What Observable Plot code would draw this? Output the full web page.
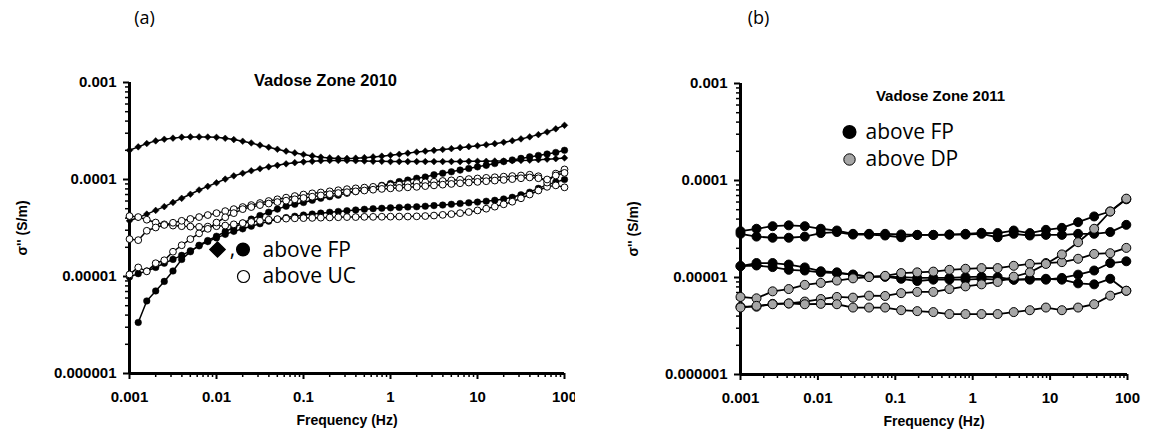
<!DOCTYPE html>
<html><head><meta charset="utf-8">
<script src="https://cdn.jsdelivr.net/npm/d3@7"></script>
<script src="https://cdn.jsdelivr.net/npm/@observablehq/plot@0.6"></script>
<style>
body{margin:0;background:#fff;}
#row{display:flex;width:1150px;height:436px;overflow:hidden;}
</style></head><body><div id="row"></div>
<script>
// values below are in units of 1e-5 S/m
const UNIT = 1e-5;

// ---------- panel (a): Vadose Zone 2010 ----------
const freqA = [0.001,0.00126,0.00158,0.002,0.00251,0.00316,0.00398,0.00501,0.00631,0.00794,
  0.01,0.0126,0.0158,0.02,0.0251,0.0316,0.0398,0.0501,0.0631,0.0794,
  0.1,0.126,0.158,0.2,0.251,0.316,0.398,0.501,0.631,0.794,
  1,1.26,1.58,2,2.51,3.16,3.98,5.01,6.31,7.94,
  10,12.6,15.8,20,25.1,31.6,39.8,50.1,63.1,79.4,100];
const a_FP_diamond1 = [20.0,21.7,23.5,25.0,26.0,26.7,27.3,27.5,27.5,27.4,
  27.2,26.6,25.8,24.8,23.8,22.6,21.5,20.5,19.6,18.8,
  18.1,17.5,17.0,16.7,16.5,16.5,16.6,16.8,17.1,17.4,
  17.8,18.2,18.7,19.2,19.6,20.0,20.4,20.8,21.3,21.8,
  22.3,22.8,23.4,24.2,25.1,26.2,27.5,29.0,30.9,33.3,36.2];
const a_FP_diamond2 = [3.75,4.05,4.4,4.8,5.25,5.8,6.4,7.05,7.8,8.5,
  9.25,10.1,10.9,11.6,12.3,12.9,13.5,14.0,14.5,14.9,
  15.2,15.4,15.6,15.7,15.7,15.7,15.6,15.5,15.4,15.4,
  15.3,15.3,15.3,15.3,15.3,15.3,15.3,15.3,15.3,15.4,
  15.4,15.4,15.5,15.5,15.6,15.7,15.8,16.0,16.2,16.4,16.7];
// starts at the 2nd frequency
const a_FP_circle1 = [0.336,0.56,0.71,0.89,1.14,1.5,1.8,2.1,2.35,2.6,
  2.9,3.2,3.55,3.9,4.25,4.6,4.95,5.3,5.55,5.8,
  6.1,6.4,6.65,6.9,7.2,7.5,7.9,8.3,8.7,9.1,
  9.5,9.85,10.3,10.6,11.2,11.6,12.0,12.5,13.0,13.5,
  14.0,14.6,15.3,15.9,16.5,17.1,17.7,18.3,19.0,20.0];
const a_FP_circle2 = [0.99,1.07,1.14,1.24,1.37,1.5,1.65,1.84,2.07,2.29,
  2.5,2.72,2.92,3.1,3.3,3.5,3.72,3.9,4.05,4.18,
  4.3,4.4,4.5,4.6,4.68,4.77,4.85,4.93,5.0,5.05,
  5.1,5.15,5.2,5.23,5.3,5.38,5.45,5.55,5.65,5.75,
  5.85,5.97,6.1,6.3,6.55,6.95,7.4,8.1,8.8,9.4,10.0];
const a_UC_1 = [4.2,4.1,3.85,3.6,3.45,3.35,3.3,3.27,3.25,3.27,
  3.3,3.35,3.45,3.55,3.65,3.75,3.85,3.9,3.95,3.98,
  4.0,4.02,4.04,4.06,4.08,4.1,4.1,4.12,4.12,4.13,
  4.14,4.15,4.15,4.17,4.2,4.25,4.32,4.4,4.5,4.62,
  4.8,5.0,5.25,5.55,5.9,6.4,7.0,7.7,8.4,8.7,8.3];
const a_UC_2 = [2.43,2.37,2.96,3.2,3.4,3.58,3.75,3.92,4.1,4.3,
  4.5,4.72,4.95,5.2,5.45,5.72,6.0,6.25,6.5,6.75,
  7.0,7.2,7.35,7.55,7.75,7.95,8.1,8.25,8.4,8.55,
  8.7,8.85,9.0,9.2,9.35,9.5,9.65,9.8,9.95,10.1,
  10.25,10.4,10.55,10.7,10.85,11.0,11.2,10.8,9.3,11.5,12.7];
const a_UC_3 = [1.05,1.24,1.13,1.37,1.47,1.8,2.1,2.43,2.78,3.1,
  3.6,4.08,4.5,4.95,5.2,5.45,5.65,5.85,6.05,6.25,
  6.45,6.65,6.85,7.05,7.25,7.4,7.55,7.7,7.85,8.0,
  8.1,8.2,8.3,8.4,8.55,8.7,8.85,9.0,9.15,9.3,
  9.45,9.6,9.75,9.9,10.1,10.3,10.5,10.3,10.0,11.0,11.7];

// ---------- panel (b): Vadose Zone 2011 ----------
const freqB = [0.001,0.00161,0.0026,0.0042,0.00677,0.0109,0.0176,0.0284,0.0458,0.0739,
  0.119,0.192,0.31,0.5,0.807,1.3,2.1,3.39,5.47,8.83,14.2,23.0,37.1,59.8,96.5];
const b_FP_1 = [3.0,3.18,3.38,3.45,3.38,3.18,3.05,2.82,2.82,2.82,
  2.78,2.75,2.75,2.77,2.82,2.89,2.87,3.05,2.87,3.1,3.25,3.72,4.26,4.79,6.4];
const b_FP_2 = [2.82,2.64,2.57,2.57,2.64,2.87,2.94,2.77,2.77,2.71,
  2.6,2.75,2.75,2.77,2.77,2.82,2.6,2.82,2.71,2.75,2.75,2.82,2.82,2.94,3.49];
const b_FP_3 = [1.31,1.41,1.41,1.36,1.27,1.16,1.13,1.07,1.02,1.02,
  0.97,0.92,0.95,0.95,0.95,0.97,0.95,0.95,0.95,0.95,0.99,1.07,1.18,1.41,1.47];
const b_FP_4 = [1.31,1.33,1.28,1.2,1.18,1.13,1.11,1.07,1.02,1.02,
  1.01,0.99,0.99,0.99,1.01,1.02,1.01,0.95,0.97,0.97,0.95,0.87,0.85,0.97,0.73];
const b_DP_1 = [0.63,0.61,0.72,0.76,0.84,0.88,0.93,0.98,1.01,1.04,
  1.11,1.13,1.15,1.2,1.23,1.25,1.25,1.32,1.38,1.41,1.44,1.56,1.75,1.78,2.02];
const b_DP_2 = [0.5,0.5,0.535,0.54,0.565,0.6,0.63,0.62,0.65,0.645,
  0.69,0.71,0.71,0.76,0.81,0.85,0.9,1.02,1.13,1.38,1.73,2.31,3.18,4.79,6.5];
const b_DP_3 = [0.49,0.51,0.53,0.54,0.53,0.535,0.53,0.49,0.49,0.49,
  0.46,0.45,0.44,0.42,0.42,0.42,0.42,0.44,0.46,0.49,0.46,0.49,0.53,0.65,0.73];

// ---------- axes ----------
const xTicks = [0.001,0.01,0.1,1,10,100];
const xTickLabels = ["0.001","0.01","0.1","1","10","100"];
const yTicks = [0.000001,0.00001,0.0001,0.001];
const yTickLabels = ["0.000001","0.00001","0.0001","0.001"];
const minorMult = [2,3,4,5,6,7,8,9];
const minorX = xTicks.slice(0,-1).flatMap(d => minorMult.map(m => d*m));
const minorY = yTicks.slice(0,-1).flatMap(d => minorMult.map(m => d*m));

const texts = {
  a: {panel: "(a)", title: "Vadose Zone 2010", leg1: "above FP", leg2: "above UC", comma: ","},
  b: {panel: "(b)", title: "Vadose Zone 2011", leg1: "above FP", leg2: "above DP"},
  xLabel: "Frequency (Hz)", yLabel: "σ'' (S/m)"
};

function toRows(freqs, vals, name, offset = 0) {
  return vals.map((v, i) => ({f: freqs[i + offset], v: v * UNIT, s: name}));
}

const SANS = "Liberation Sans, Arial, sans-serif";
const LEG = "Open Sans, Noto Sans, sans-serif";
const C = {textAnchor: "middle", lineAnchor: "middle"};
const L = {textAnchor: "start", lineAnchor: "middle"};

function axisMarks() {
  return [
    Plot.axisX(minorX, {tickSize: 4, tickFormat: () => "", strokeWidth: 1.5, label: null}),
    Plot.axisY(minorY, {tickSize: 4, tickFormat: () => "", strokeWidth: 1.5, label: null}),
    Plot.axisX(xTicks, {tickSize: 6, tickPadding: 12, strokeWidth: 2, label: null,
      tickFormat: d => xTickLabels[xTicks.indexOf(d)], fontSize: 15, fontWeight: "bold", fontFamily: SANS}),
    Plot.axisY(yTicks, {tickSize: 6, tickPadding: 7, strokeWidth: 2, label: null,
      tickFormat: d => yTickLabels[yTicks.indexOf(d)], fontSize: 15, fontWeight: "bold", fontFamily: SANS}),
    Plot.ruleX([xTicks[0]], {strokeWidth: 3}),
    Plot.ruleY([yTicks[0]], {strokeWidth: 3}),
    Plot.text([texts.xLabel], {frameAnchor: "bottom", dy: 47, ...C, fontWeight: "bold", fontSize: 14, fontFamily: SANS}),
    Plot.text([texts.yLabel], {frameAnchor: "left", dx: -107, ...C, rotate: -90, fontWeight: "bold", fontSize: 14, fontFamily: SANS})
  ];
}

// panel a data
const aDiamonds = [...toRows(freqA, a_FP_diamond1, "D1"), ...toRows(freqA, a_FP_diamond2, "D2")];
const aFilled = [...toRows(freqA, a_FP_circle1, "F1", 1), ...toRows(freqA, a_FP_circle2, "F2")];
const aOpen = [...toRows(freqA, a_UC_1, "O1"), ...toRows(freqA, a_UC_2, "O2"), ...toRows(freqA, a_UC_3, "O3")];
const aAll = [...aDiamonds, ...aFilled, ...aOpen];

const plotA = Plot.plot({
  width: 575, height: 436, marginTop: 82, marginBottom: 63, marginLeft: 129, marginRight: 11,
  x: {type: "log", domain: [0.001, 100]},
  y: {type: "log", domain: [0.000001, 0.001]},
  style: {fontFamily: SANS, background: "white", overflow: "visible", color: "black"},
  marks: [
    ...axisMarks(),
    Plot.line(aAll, {x: "f", y: "v", z: "s", stroke: "black", strokeWidth: 1.5}),
    Plot.dot(aDiamonds, {x: "f", y: "v", symbol: "diamond2", r: 3, fill: "black", stroke: "black", strokeWidth: 0.5}),
    Plot.dot(aFilled, {x: "f", y: "v", r: 3.3, fill: "black", stroke: "black", strokeWidth: 0.5}),
    Plot.dot(aOpen, {x: "f", y: "v", r: 3.4, fill: "white", stroke: "black", strokeWidth: 1}),
    Plot.text([texts.a.panel], {frameAnchor: "top-left", dx: 15, dy: -64, ...C, fontSize: 18, fontFamily: LEG}),
    Plot.text([texts.a.title], {frameAnchor: "top-left", dx: 196, dy: -2, ...C, fontSize: 16.5, fontWeight: "bold", fontFamily: SANS}),
    Plot.dot([0], {frameAnchor: "top-left", dx: 88, dy: 167, symbol: "diamond2", r: 6.8, fill: "black", stroke: "black"}),
    Plot.text([texts.a.comma], {frameAnchor: "top-left", dx: 103, dy: 167, ...C, fontSize: 21, fontFamily: LEG}),
    Plot.dot([0], {frameAnchor: "top-left", dx: 113.5, dy: 167, r: 6.3, fill: "black", stroke: "black"}),
    Plot.text([texts.a.leg1], {frameAnchor: "top-left", dx: 133, dy: 168, ...L, fontSize: 21, fontFamily: LEG}),
    Plot.dot([0], {frameAnchor: "top-left", dx: 114, dy: 194, r: 6, fill: "white", stroke: "black", strokeWidth: 1.2}),
    Plot.text([texts.a.leg2], {frameAnchor: "top-left", dx: 133, dy: 194, ...L, fontSize: 21, fontFamily: LEG})
  ]
});

// panel b data
const bFP = [...toRows(freqB, b_FP_1, "A"), ...toRows(freqB, b_FP_2, "B"), ...toRows(freqB, b_FP_3, "D"), ...toRows(freqB, b_FP_4, "E")];
const bDP = [...toRows(freqB, b_DP_1, "C"), ...toRows(freqB, b_DP_2, "F"), ...toRows(freqB, b_DP_3, "G")];

const plotB = Plot.plot({
  width: 575, height: 436, marginTop: 83, marginBottom: 62, marginLeft: 165, marginRight: 23,
  x: {type: "log", domain: [0.001, 100]},
  y: {type: "log", domain: [0.000001, 0.001]},
  style: {fontFamily: SANS, background: "white", overflow: "visible", color: "black"},
  marks: [
    ...axisMarks(),
    Plot.line([...bFP, ...bDP], {x: "f", y: "v", z: "s", stroke: "black", strokeWidth: 1.8}),
    Plot.dot(bFP, {x: "f", y: "v", r: 4.5, fill: "black", stroke: "black", strokeWidth: 1}),
    Plot.dot(bDP, {x: "f", y: "v", r: 4.5, fill: "#a6a6a6", stroke: "black", strokeWidth: 1}),
    Plot.text([texts.b.panel], {frameAnchor: "top-left", dx: 18, dy: -65, ...C, fontSize: 18, fontFamily: LEG}),
    Plot.text([texts.b.title], {frameAnchor: "top-left", dx: 200, dy: 13, ...C, fontSize: 15, fontWeight: "bold", fontFamily: SANS}),
    Plot.dot([0], {frameAnchor: "top-left", dx: 109, dy: 48.5, r: 6.3, fill: "black", stroke: "black"}),
    Plot.text([texts.b.leg1], {frameAnchor: "top-left", dx: 125, dy: 49, ...L, fontSize: 21, fontFamily: LEG}),
    Plot.dot([0], {frameAnchor: "top-left", dx: 109, dy: 76, r: 5.7, fill: "#a6a6a6", stroke: "black", strokeWidth: 1}),
    Plot.text([texts.b.leg2], {frameAnchor: "top-left", dx: 125, dy: 76, ...L, fontSize: 21, fontFamily: LEG})
  ]
});

const row = document.getElementById("row");
row.append(plotA, plotB);
</script>
</body></html>
